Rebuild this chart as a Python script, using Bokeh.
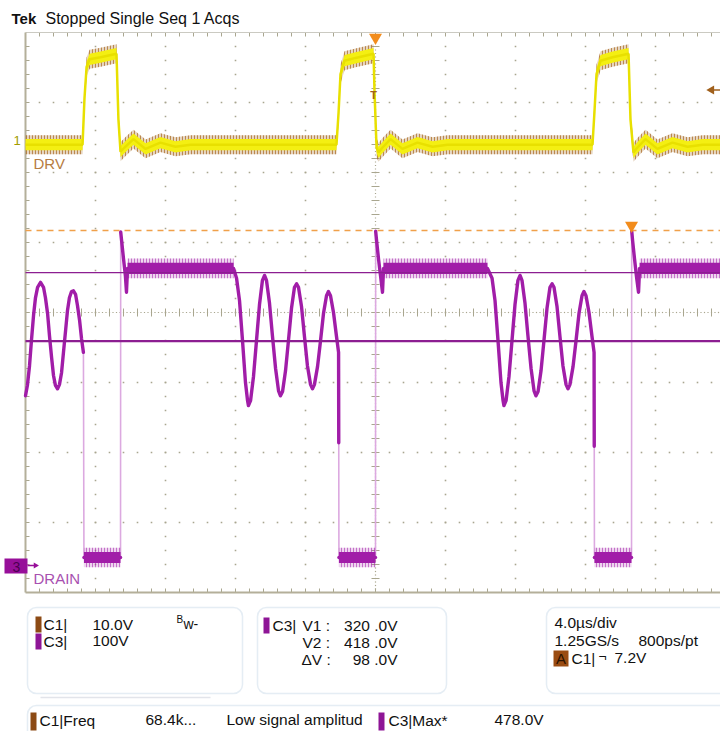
import numpy as np
from bokeh.plotting import figure
from bokeh.models import Range1d, Label, BoxAnnotation
from bokeh.embed import file_html
from bokeh.resources import INLINE

# ------------------------------------------------------------------ data
# time in microseconds relative to the trigger point (4.0 us/div)
# Channel 1 : DRV (10 V/div)
c1_time = [-20.00, -16.74, -16.63, -16.51, -16.34, -15.71, -14.80, -14.69, -14.57,
           -14.34, -13.83, -13.14, -12.29, -11.43, -10.57, -2.23, -2.11, -2.00,
           -1.77, -1.14, -0.11, -0.06, 0.06, 0.17, 0.40, 0.86, 1.54, 2.40, 3.26,
           4.11, 12.40, 12.51, 12.63, 12.86, 13.54, 14.46, 14.57, 14.74, 14.97,
           15.43, 16.11, 16.97, 17.83, 18.69, 19.71]
c1_volt = [-0.6, -0.6, 6.0, 10.5, 11.6, 11.9, 12.4, 3.0, -1.6,
           -1.0, 0.2, -1.2, -0.3, -0.9, -0.6, -0.6, 4.0, 9.5,
           11.4, 11.8, 12.4, 7.2, -1.0, -1.7, -1.0, 0.2, -1.2, -0.3, -0.9,
           -0.6, -0.6, 4.0, 9.5, 11.4, 11.9, 12.4, 3.0, -1.7, -1.0,
           0.2, -1.2, -0.3, -0.9, -0.6, -0.6]

# Channel 3 : DRAIN (100 V/div)
c3_time = [
    # ring-down at the left edge
    -20.00, -19.89, -19.77, -19.66, -19.54, -19.43, -19.31, -19.14, -18.97, -18.86,
    -18.74, -18.63, -18.51, -18.40, -18.29, -18.17, -18.06, -17.94, -17.83, -17.71,
    -17.60, -17.49, -17.37, -17.26, -17.14, -17.03, -16.91, -16.80, -16.69,
    # on-time, turn-off overshoot, plateau
    -16.66, -14.57, -14.56, -14.51, -14.40, -14.29, -14.23, -14.17, -8.11,
    # resonant ring
    -7.94, -7.77, -7.60, -7.43, -7.31, -7.26, -7.14, -6.97, -6.80, -6.63,
    -6.46, -6.34, -6.23, -6.06, -5.89, -5.71, -5.54, -5.43, -5.31, -5.14,
    -4.97, -4.80, -4.63, -4.51, -4.40, -4.23, -4.06, -3.89, -3.71, -3.60,
    -3.49, -3.31, -3.14, -2.97, -2.80, -2.69, -2.57, -2.40, -2.23, -2.11, -2.10,
    # on-time, turn-off overshoot, plateau
    -2.09, 0.00, 0.01, 0.06, 0.17, 0.29, 0.40, 0.46, 6.40,
    # resonant ring
    6.66, 6.83, 7.00, 7.17, 7.29, 7.34, 7.46, 7.63, 7.80, 7.97,
    8.14, 8.26, 8.37, 8.54, 8.71, 8.89, 9.06, 9.17, 9.29, 9.46,
    9.63, 9.80, 9.97, 10.09, 10.20, 10.37, 10.54, 10.71, 10.89, 11.00,
    11.11, 11.29, 11.46, 11.63, 11.80, 11.91, 12.03, 12.20, 12.37, 12.49, 12.50,
    # on-time, turn-off overshoot, plateau
    12.51, 14.63, 14.64, 14.69, 14.80, 14.91, 15.03, 15.09, 19.71]
c3_volt = [
    242, 257, 285, 321, 357, 382, 397, 404, 397, 382,
    360, 328, 297, 271, 257, 252, 258, 275, 304, 335,
    364, 382, 391, 392, 387, 371, 350, 324, 304,
    11, 11, 476, 464, 438, 413, 390, 424, 424,
    410, 378, 321, 261, 235, 228, 235, 270, 321, 372,
    407, 414, 407, 375, 328, 281, 249, 242, 248, 278,
    322, 367, 397, 402, 397, 370, 327, 285, 258, 252,
    258, 284, 321, 360, 385, 391, 385, 361, 327, 304, 175,
    11, 11, 477, 464, 438, 413, 390, 424, 424,
    410, 378, 321, 261, 235, 228, 235, 270, 321, 372,
    407, 414, 407, 375, 328, 281, 249, 242, 248, 278,
    322, 367, 397, 402, 397, 370, 327, 285, 258, 252,
    258, 284, 321, 360, 385, 391, 385, 361, 327, 304, 170,
    11, 11, 478, 464, 438, 413, 390, 424, 424]

cursor_v1 = 320.0
cursor_v2 = 418.0
c3_max = 478.0
c3_max_time = 14.63
trigger_time = 0.0
trigger_level = 7.2

# ------------------------------------------------------------------ scope settings
US_PER_DIV = 4.0
C1_VDIV, C1_POS = 10.0, 2.457
C3_VDIV, C3_POS = 100.0, -3.61

# ------------------------------------------------------------------ layout (pixels)
W, H = 720, 731
ORG = 0
DIV = 70.0
GL, GT = 25.0, 32.0
GR, GB = GL + 10 * DIV, GT + 8 * DIV
XC, YC = GL + 5 * DIV, GT + 4 * DIV


def px_t(t):
    return XC + t / US_PER_DIV * DIV


def t_px(x):
    return (x - XC) / DIV * US_PER_DIV


def v_px(y, vdiv, pos):
    return ((YC - y) / DIV - pos) * vdiv


def px_c1(v):
    return YC - (v / C1_VDIV + C1_POS) * DIV


def px_c3(v):
    return YC - (v / C3_VDIV + C3_POS) * DIV


p = figure(width=W, height=H, x_range=Range1d(ORG, ORG + W), y_range=Range1d(ORG + H, ORG),
           output_backend="svg", toolbar_location=None, x_axis_location=None,
           y_axis_location=None, min_border=0, outline_line_color=None)
p.grid.visible = False
p.background_fill_color = "white"
p.border_fill_color = "white"
p.extra_x_ranges = {"t": Range1d(t_px(ORG), t_px(ORG + W))}
p.extra_y_ranges = {"c1": Range1d(v_px(ORG + H, C1_VDIV, C1_POS), v_px(ORG, C1_VDIV, C1_POS)),
                    "c3": Range1d(v_px(ORG + H, C3_VDIV, C3_POS), v_px(ORG, C3_VDIV, C3_POS))}

FONT = "Liberation Sans"
GRID_C = "#a9a68f"

# ------------------------------------------------------------------ graticule
dx, dy = [], []
for i in range(1, 10):
    if i == 5:
        continue
    ys = np.arange(GT + 14, GB, 14.0)
    dx += [GL + i * DIV] * len(ys)
    dy += list(ys)
for k in range(1, 8):
    if k == 4:
        continue
    xs = np.arange(GL + 14, ORG + W, 14.0)
    dx += list(xs)
    dy += [GT + k * DIV] * len(xs)
p.scatter(dx, dy, marker="square", size=1.6, color=GRID_C, line_color=None)

# centre cross (dense dots + ticks)
cx = np.arange(GL + 3.5, ORG + W, 3.5)
cy = np.arange(GT + 3.5, GB, 3.5)
p.scatter(list(cx) + [XC] * len(cy), [YC] * len(cx) + list(cy), marker="square",
          size=1.2, color=GRID_C, line_color=None)
tx = np.arange(GL + 14, ORG + W, 14.0)
ty = np.arange(GT + 14, GB, 14.0)
p.segment(x0=tx, y0=YC - 4, x1=tx, y1=YC + 4, line_color=GRID_C, line_width=1)
p.segment(x0=XC - 4, y0=ty, x1=XC + 4, y1=ty, line_color=GRID_C, line_width=1)

# border + edge ticks
p.segment(x0=tx, y0=GT, x1=tx, y1=GT + 4, line_color=GRID_C, line_width=1)
p.segment(x0=tx, y0=GB - 4, x1=tx, y1=GB, line_color=GRID_C, line_width=1)
p.segment(x0=GL, y0=ty, x1=GL + 4, y1=ty, line_color=GRID_C, line_width=1)
p.segment(x0=[GL, GL, GL], y0=[GT, GB, GT], x1=[GR, GR, GL], y1=[GT, GB, GB],
          line_color=["#cbcac2", "#b4af9a", "#b4af9a"], line_width=[1, 2, 2])

# ------------------------------------------------------------------ channel 3 (DRAIN)
PURPLE = "#a11da8"
t3 = np.array(c3_time)
v3 = np.array(c3_volt)
p.line(t3, v3, x_range_name="t", y_range_name="c3", line_color="#dca9e0", line_width=1.6)

# solid pieces: split at the fast switching edges
seg_x, seg_y = [[t3[0]]], [[v3[0]]]
for i in range(1, len(t3)):
    fast = (t3[i] - t3[i - 1]) <= 0.035 and abs(v3[i] - v3[i - 1]) > 150
    if fast:
        seg_x.append([t3[i]])
        seg_y.append([v3[i]])
    else:
        seg_x[-1].append(t3[i])
        seg_y[-1].append(v3[i])
p.multi_line(seg_x, seg_y, x_range_name="t", y_range_name="c3", line_color=PURPLE,
             line_width=3.4, line_join="round", line_cap="round")

# noisy flat levels
fl, fr, fv = [], [], []
for i in range(len(t3) - 1):
    if v3[i] == v3[i + 1] and (t3[i + 1] - t3[i]) > 0.5:
        fl.append(t3[i]); fr.append(t3[i + 1]); fv.append(v3[i])
fl, fr, fv = np.array(fl), np.array(fr), np.array(fv)
p.quad(left=fl, right=fr, bottom=fv - 14, top=fv + 14, x_range_name="t", y_range_name="c3",
       fill_color=PURPLE, fill_alpha=0.18, line_color=None, hatch_pattern="|",
       hatch_color=PURPLE, hatch_scale=3, hatch_weight=1, hatch_alpha=0.55)
p.quad(left=fl, right=fr, bottom=fv - 8, top=fv + 8, x_range_name="t", y_range_name="c3",
       fill_color=PURPLE, line_color=None)

# cursors and max marker
tl, tr = t_px(GL), t_px(ORG + W)
p.segment(x0=[tl, tl], x1=[tr, tr], y0=[cursor_v1, cursor_v2], y1=[cursor_v1, cursor_v2],
          x_range_name="t", y_range_name="c3", line_color="#8c1e91", line_width=[2.2, 1.2])
p.segment(x0=[tl], x1=[tr], y0=[c3_max], y1=[c3_max], x_range_name="t", y_range_name="c3",
          line_color="#f0a04a", line_width=1.5, line_dash="6 5")
p.scatter([px_t(c3_max_time)], [px_c3(c3_max) - 5], marker="inverted_triangle", size=13,
          color="#f28c1c", line_color=None)

# ------------------------------------------------------------------ channel 1 (DRV)
t1 = np.array(c1_time)
v1 = np.array(c1_volt)
p.varea(x=t1, y1=v1 - 1.35, y2=v1 + 1.35, x_range_name="t", y_range_name="c1",
        fill_color="#b07a3a", fill_alpha=0.3, hatch_pattern="|", hatch_color="#a8661e",
        hatch_scale=3, hatch_weight=1.1, hatch_alpha=0.7)
p.varea(x=t1, y1=v1 - 0.8, y2=v1 + 0.8, x_range_name="t", y_range_name="c1",
        fill_color="#f4ef12")
p.line(t1, v1, x_range_name="t", y_range_name="c1", line_color="#e8e000", line_width=2.5)

# trigger markers
p.scatter([px_t(trigger_time)], [GT + 5], marker="inverted_triangle", size=13,
          color="#f28c1c", line_color=None)
p.add_layout(Label(x=px_t(trigger_time) - 2, y=px_c1(trigger_level) + 5, text="T",
                   text_font=FONT, text_font_size="11px", text_font_style="bold",
                   text_color="#a0601c", text_align="center", text_baseline="middle"))
p.segment(x0=[711], y0=[px_c1(trigger_level)], x1=[720], y1=[px_c1(trigger_level)],
          line_color="#a0601c", line_width=1.5)
p.scatter([711], [px_c1(trigger_level)], marker="triangle", angle=np.pi / 2,
          size=9, color="#a0601c", line_color=None)

# channel labels
def txt(x, y, s, size=15.5, color="#111111", align="left", bold=False):
    p.add_layout(Label(x=x, y=y, text=s, text_font=FONT, text_font_size=f"{size}px",
                       text_color=color, text_align=align, text_baseline="middle",
                       text_font_style="bold" if bold else "normal"))


txt(13, 140, "1", 13, "#a29c00")
txt(33, 163, "DRV", 15, "#b67c42")
txt(33, 578, "DRAIN", 15, "#a850b0")
p.add_layout(BoxAnnotation(left=4, right=27, top=558, bottom=573, fill_color="#970f99",
                           fill_alpha=1, line_color=None))
txt(16, 566, "3", 14, "#4b0050", "center")
p.segment(x0=[27], y0=[565], x1=[34], y1=[565], line_color="#970f99", line_width=1.5)
p.scatter([35], [565], marker="triangle", angle=-np.pi / 2, size=6, color="#970f99",
          line_color=None)

# title
txt(11, 18, "Tek", 15, "#111111", bold=True)
txt(45, 18, "Stopped Single Seq 1 Acqs", 16, "#111111")

# ------------------------------------------------------------------ info panels
BOXC = "#aac3da"
for l, r, t, b in [(27, 242, 607, 693), (257, 446, 607, 693), (546, 740, 607, 693),
                   (27, 740, 705, 760)]:
    p.add_layout(BoxAnnotation(left=l, right=r, top=t, bottom=b, fill_color="white",
                               fill_alpha=1, line_color=BOXC, line_width=1.5,
                               border_radius=9))
p.segment(x0=[40], y0=[697], x1=[210], y1=[697], line_color="#e2e4ea", line_width=1.5)

BROWN_SW, PURP_SW = "#8c4a14", "#8e1596"


def swatch(x, y, c, h=16):
    p.add_layout(BoxAnnotation(left=x, right=x + 6, top=y - h / 2, bottom=y + h / 2,
                               fill_color=c, fill_alpha=1, line_color=None))


swatch(35, 624, BROWN_SW)
txt(43, 624, "C1|")
txt(92, 624, "10.0V")
txt(176, 619, "B", 10)
txt(183, 623, "w-", 14)
swatch(35, 641, PURP_SW)
txt(43, 641, "C3|")
txt(92, 640, "100V")

swatch(263, 625, PURP_SW)
txt(272, 625, "C3|")
txt(302, 625, "V1 :")
txt(397, 625, "320 .0V", align="right")
txt(302, 642, "V2 :")
txt(397, 642, "418 .0V", align="right")
txt(301, 659, "\u0394V :")
txt(397, 659, "98 .0V", align="right")

txt(554, 622, "4.0\u00b5s/div")
txt(554, 640, "1.25GS/s")
txt(638, 640, "800ps/pt")
p.add_layout(BoxAnnotation(left=553, right=568, top=650, bottom=666, fill_color="#9a4c12",
                           fill_alpha=1, line_color=None))
txt(560.5, 658, "A", 15, "#2a1200", "center")
txt(571, 658, "C1|")
txt(598, 656, "\u00ac", 14)
txt(614, 657, "7.2V")

swatch(30, 721, BROWN_SW, 18)
txt(39, 720, "C1|Freq")
txt(145, 719, "68.4k...")
txt(226, 719, "Low signal amplitud")
swatch(378, 721, PURP_SW, 18)
txt(388, 720, "C3|Max*")
txt(494, 719, "478.0V")

open("out.html", "w").write(file_html(p, INLINE))
